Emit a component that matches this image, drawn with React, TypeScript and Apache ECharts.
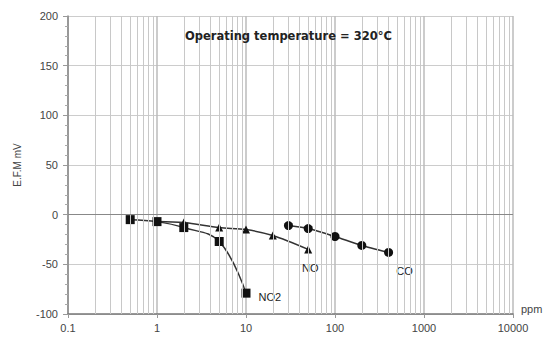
import React, { useEffect, useRef } from "react";
import * as echarts from "echarts";

const xTicks = ["0.1", "1", "10", "100", "1000", "10000"];
const no2Data: [number, number][] = [[0.5, -5], [1, -7], [2, -13], [5, -27], [10, -79]];
const noData: [number, number][] = [[1, -7], [2, -8], [5, -13], [10, -15], [20, -21], [50, -35]];
const coData: [number, number][] = [[30, -11], [50, -14], [100, -22], [200, -31], [400, -38]];
const decades = [0.1, 1, 10, 100, 1000];
const minorMultipliers = [2, 3, 4, 5, 6, 7, 8, 9];

export default function App() {
  const ref = useRef<HTMLDivElement>(null);
  useEffect(() => {
    if (!ref.current) return;
    const chart = echarts.init(ref.current, null, { renderer: "svg" });
    const minorLines: any[] = [];
    decades.forEach((d) => minorMultipliers.forEach((m) => minorLines.push({ xAxis: +(d * m).toPrecision(3) })));
    const withLabel = (arr: [number, number][], text: string, pos: any, offset: number[]) =>
      arr.map((p, i) =>
        i === arr.length - 1
          ? { value: p, label: { show: true, formatter: text, position: pos, offset, color: "#222", fontSize: 11, fontFamily: "Liberation Sans" } }
          : { value: p }
      );
    chart.setOption({
      animation: false,
      backgroundColor: "#fff",
      title: {
        text: "Operating temperature = 320°C",
        left: 180,
        top: 25,
        textStyle: { fontSize: 11.5, fontWeight: "bold", color: "#222", fontFamily: "DejaVu Sans" },
      },
      grid: { left: 68, right: 36, top: 16, bottom: 29 },
      xAxis: {
        type: "log",
        logBase: 10,
        min: 0.1,
        max: 10000,
        name: "ppm",
        nameLocation: "end",
        nameGap: 8,
        nameTextStyle: { color: "#444", fontSize: 11, fontFamily: "Liberation Sans", verticalAlign: "bottom" },
        axisLine: { show: true, onZero: false, lineStyle: { color: "#777", width: 1.5 } },
        axisTick: { show: true, length: 4, lineStyle: { color: "#999" } },
        axisLabel: {
          color: "#444",
          fontSize: 11,
          fontFamily: "Liberation Sans",
          margin: 8,
          formatter: (v: number) => {
            const idx = Math.round(Math.log10(v)) + 1;
            return xTicks[idx] ?? String(v);
          },
        },
        splitLine: { show: true, lineStyle: { color: "#bbb", width: 1.5 } },
      },
      yAxis: {
        type: "value",
        min: -100,
        max: 200,
        interval: 50,
        name: "E.F.M mV",
        nameLocation: "middle",
        nameRotate: 90,
        nameGap: 46,
        nameTextStyle: { color: "#444", fontSize: 10, fontFamily: "Liberation Sans" },
        axisLine: { show: true, lineStyle: { color: "#888", width: 1.5 } },
        axisTick: { show: true, length: 5, lineStyle: { color: "#999" } },
        minorTick: { show: true, splitNumber: 5, length: 3, lineStyle: { color: "#aaa" } },
        axisLabel: { color: "#444", fontSize: 11, fontFamily: "Liberation Sans", margin: 10 },
        splitLine: { show: true, lineStyle: { color: "#ccc", width: 1 } },
      },
      series: [
        {
          type: "line",
          name: "grid",
          data: [],
          silent: true,
          markLine: {
            silent: true,
            symbol: "none",
            label: { show: false },
            lineStyle: { color: "#c8c8c8", type: "solid", width: 1 },
            data: minorLines,
          },
        },
        {
          type: "line",
          name: "zero",
          data: [],
          silent: true,
          markLine: {
            silent: true,
            symbol: "none",
            label: { show: false },
            lineStyle: { color: "#888", type: "solid", width: 1.2 },
            data: [{ yAxis: 0 }],
          },
        },
        {
          type: "line",
          name: "CO",
          data: withLabel(coData, "CO", "bottom", [16, 4]),
          smooth: 0.2,
          symbol: "circle",
          symbolSize: 9,
          itemStyle: { color: "#111" },
          lineStyle: { color: "#333", width: 1.5 },
          z: 3,
        },
        {
          type: "line",
          name: "NO",
          data: withLabel(noData, "NO", "bottom", [2, 4]),
          smooth: 0.3,
          symbol: "triangle",
          symbolSize: 8,
          itemStyle: { color: "#111" },
          lineStyle: { color: "#333", width: 1.5 },
          z: 3,
        },
        {
          type: "line",
          name: "NO2",
          data: withLabel(no2Data, "NO2", "right", [3, 4]),
          smooth: 0.4,
          symbol: "rect",
          symbolSize: 9,
          itemStyle: { color: "#111" },
          lineStyle: { color: "#333", width: 1.5 },
          z: 4,
        },
      ],
    });
    return () => chart.dispose();
  }, []);
  return <div ref={ref} style={{ width: 549, height: 343, position: "absolute", left: 0, top: 0 }} />;
}
